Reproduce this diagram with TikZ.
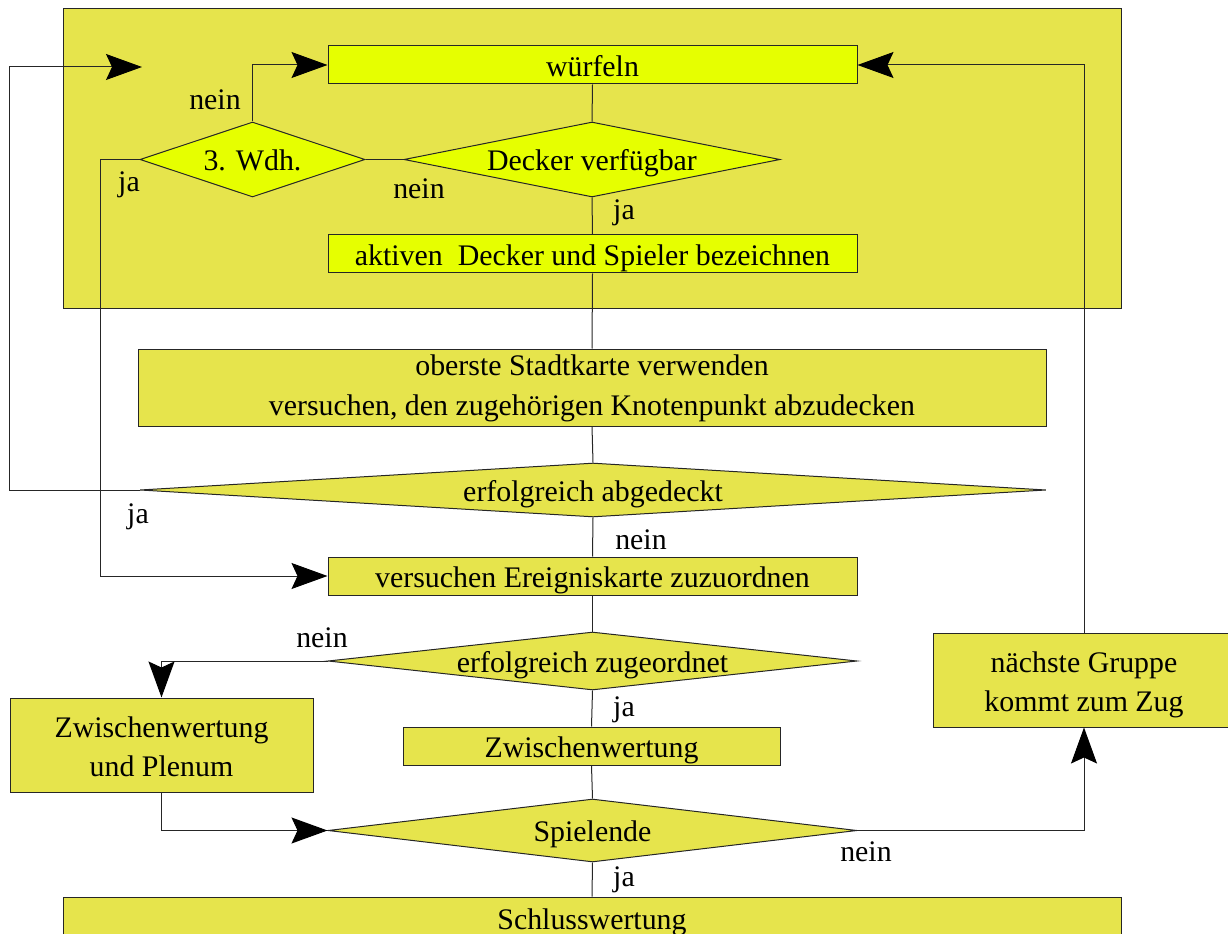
\documentclass[tikz,border=0pt]{standalone}
\usepackage{fontspec}
\setmainfont{Liberation Serif}
\usetikzlibrary{shapes.geometric,arrows.meta}
\definecolor{bgolive}{RGB}{230,228,76}
\definecolor{brightyel}{RGB}{230,255,0}
\begin{document}
\begin{tikzpicture}[x=0.75pt,y=-0.75pt,
  every node/.style={font=\fontsize{22.4}{29.5}\selectfont},
  box/.style={draw=black!85, line width=0.75pt, inner sep=0pt, align=center},
  oneline/.style={text height=21.3pt, text depth=4.7pt},
  dia/.style={diamond, draw=black!85, line width=0.75pt, inner xsep=0pt, inner ysep=-10pt, oneline},
  conn/.style={draw=black!85, line width=0.75pt},
  arr/.style={conn, -{Stealth[length=27pt,width=19.5pt,inset=4.5pt,color=black]}},
  lbl/.style={inner sep=0pt}]
\useasboundingbox (0,0) rectangle (1228,934);
\clip (0,0) rectangle (1228,934);

\node[box, fill=bgolive, minimum width=1058*0.75pt, minimum height=300*0.75pt] (region) at (592,159) {};

\node[box, oneline, fill=brightyel, minimum width=529*0.75pt, minimum height=38*0.75pt] (wuerfeln) at (592.5,65) {würfeln};
\node[dia, fill=brightyel, shape aspect=3, minimum width=225*0.75pt, minimum height=75*0.75pt] (wdh) at (252.5,159.5) {3. Wdh.};
\node[dia, fill=brightyel, shape aspect=5, minimum width=376*0.75pt, minimum height=75*0.75pt] (decker) at (592,159.5) {Decker verfügbar};
\node[box, oneline, fill=brightyel, minimum width=529*0.75pt, minimum height=38*0.75pt] (aktiv) at (592.5,254) {aktiven\ \ Decker und Spieler bezeichnen};
\node[box, fill=bgolive, minimum width=908*0.75pt, minimum height=77*0.75pt] (oberste) at (592,387.5) {\rule{0pt}{0.75em}oberste Stadtkarte verwenden\\versuchen, den zugehörigen Knotenpunkt abzudecken};
\node[dia, fill=bgolive, shape aspect=16.8, minimum width=906*0.75pt, minimum height=54*0.75pt] (abgedeckt) at (593,490) {erfolgreich abgedeckt};
\node[box, oneline, fill=bgolive, minimum width=529*0.75pt, minimum height=38*0.75pt] (versuchen) at (592.5,576) {versuchen Ereigniskarte zuzuordnen};
\node[dia, fill=bgolive, shape aspect=9.1, minimum width=529*0.75pt, minimum height=58*0.75pt] (zugeordnet) at (592.5,661) {erfolgreich zugeordnet};
\node[box, fill=bgolive, minimum width=303*0.75pt, minimum height=94*0.75pt] (zup) at (161.5,745) {\rule{0pt}{0.83em}Zwischenwertung\\und Plenum};
\node[box, oneline, fill=bgolive, minimum width=377*0.75pt, minimum height=38*0.75pt] (zw) at (591.5,746) {Zwischenwertung};
\node[dia, fill=bgolive, shape aspect=8.4, minimum width=529*0.75pt, minimum height=63*0.75pt] (spielende) at (592.5,830.5) {Spielende};
\node[box, fill=bgolive, minimum width=302*0.75pt, minimum height=94*0.75pt] (naechste) at (1084,680) {\rule{0pt}{1.03em}nächste Gruppe\\kommt zum Zug};
\node[box, oneline, fill=bgolive, minimum width=1058*0.75pt, minimum height=43*0.75pt] (schluss) at (592,918.5) {Schlusswertung};

\coordinate (loopend) at (142,67);

\draw[conn] (wuerfeln.south) -- (decker.north);
\draw[conn] (decker.south) -- (aktiv.north);
\draw[conn] (decker.west) -- (wdh.east);
\draw[arr] (wdh.north) |- (wuerfeln.west);
\draw[arr] (wdh.west) -- ++(-39,0) |- (versuchen.west);
\draw[conn] (aktiv.south) -- (oberste.north);
\draw[conn] (oberste.south) -- (abgedeckt.north);
\draw[arr] (abgedeckt.west) -- ++(-130,0) |- (loopend);
\draw[conn] (abgedeckt.south) -- (versuchen.north);
\draw[conn] (versuchen.south) -- (zugeordnet.north);
\draw[arr] (zugeordnet.west) -| (zup.north);
\draw[conn] (zugeordnet.south) -- (zw.north);
\draw[conn] (zw.south) -- (spielende.north);
\draw[arr] (zup.south) |- (spielende.west);
\draw[arr] (spielende.east) -| (naechste.south);
\draw[arr] (naechste.north) |- (wuerfeln.east);
\draw[conn] (spielende.south) -- (schluss.north);

\node[lbl] (l1) at (215,100) {nein};
\node[lbl] (l2) at (129,185) {ja};
\node[lbl] (l3) at (419,189) {nein};
\node[lbl] (l4) at (624,213) {ja};
\node[lbl] (l5) at (138,517) {ja};
\node[lbl] (l6) at (641,540) {nein};
\node[lbl] (l7) at (322,638) {nein};
\node[lbl] (l8) at (624,710) {ja};
\node[lbl] (l9) at (866,852) {nein};
\node[lbl] (l10) at (624,880) {ja};
\end{tikzpicture}
\end{document}
